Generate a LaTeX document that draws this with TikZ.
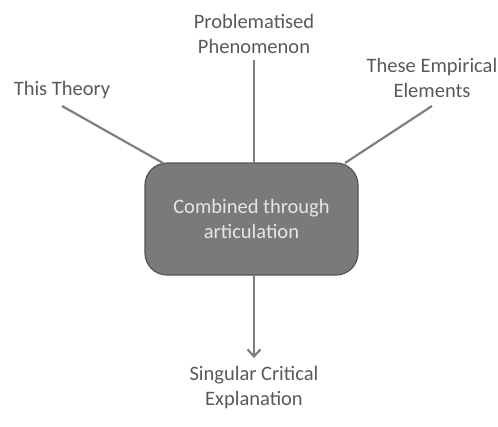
\documentclass[tikz,border=0pt]{standalone}
\usepackage{fontspec}
\setmainfont{Carlito}
\usetikzlibrary{arrows.meta}
\definecolor{linegray}{HTML}{7F7F7F}
\definecolor{txtgray}{HTML}{595959}
\definecolor{boxfill}{HTML}{7A7A7A}
\definecolor{boxdraw}{HTML}{555555}
\definecolor{boxtxt}{HTML}{E6E6E6}
\begin{document}
\begin{tikzpicture}[x=1pt,y=-1pt,
  lbl/.style={text=txtgray, font=\fontsize{20.5}{25}\selectfont, align=center, inner sep=0pt},
  conn/.style={draw=linegray, line width=2.2pt},
  mainbox/.style={draw=boxdraw, line width=1.2pt, fill=boxfill, rounded corners=22pt,
    minimum width=213pt, minimum height=112pt, text=boxtxt,
    font=\fontsize{20.5}{25}\selectfont, align=center}]
\useasboundingbox (0,0) rectangle (498,426);
\node[mainbox] (box) at (251.5,219) {Combined through\\articulation};
\node[lbl] (th) at (62,90) {This Theory};
\node[lbl] (pp) at (254,34) {Problematised\\Phenomenon};
\node[lbl] (ee) at (432,78) {These Empirical\\Elements};
\node[lbl] (sc) at (254,388) {Singular Critical\\Explanation};
\coordinate (thE) at (62,106);
\coordinate (ppE) at (254,60);
\coordinate (eeE) at (432,106);
\coordinate (thB) at (163,163);
\coordinate (ppB) at (254,163);
\coordinate (eeB) at (345,163);
\coordinate (arrE) at (254,358);
\draw[conn] (thE) -- (thB);
\draw[conn] (ppE) -- (ppB);
\draw[conn] (eeE) -- (eeB);
\draw[conn, -{Straight Barb[length=7pt,width=13pt]}] (box.south -| ppB) -- (arrE);
\end{tikzpicture}
\end{document}
